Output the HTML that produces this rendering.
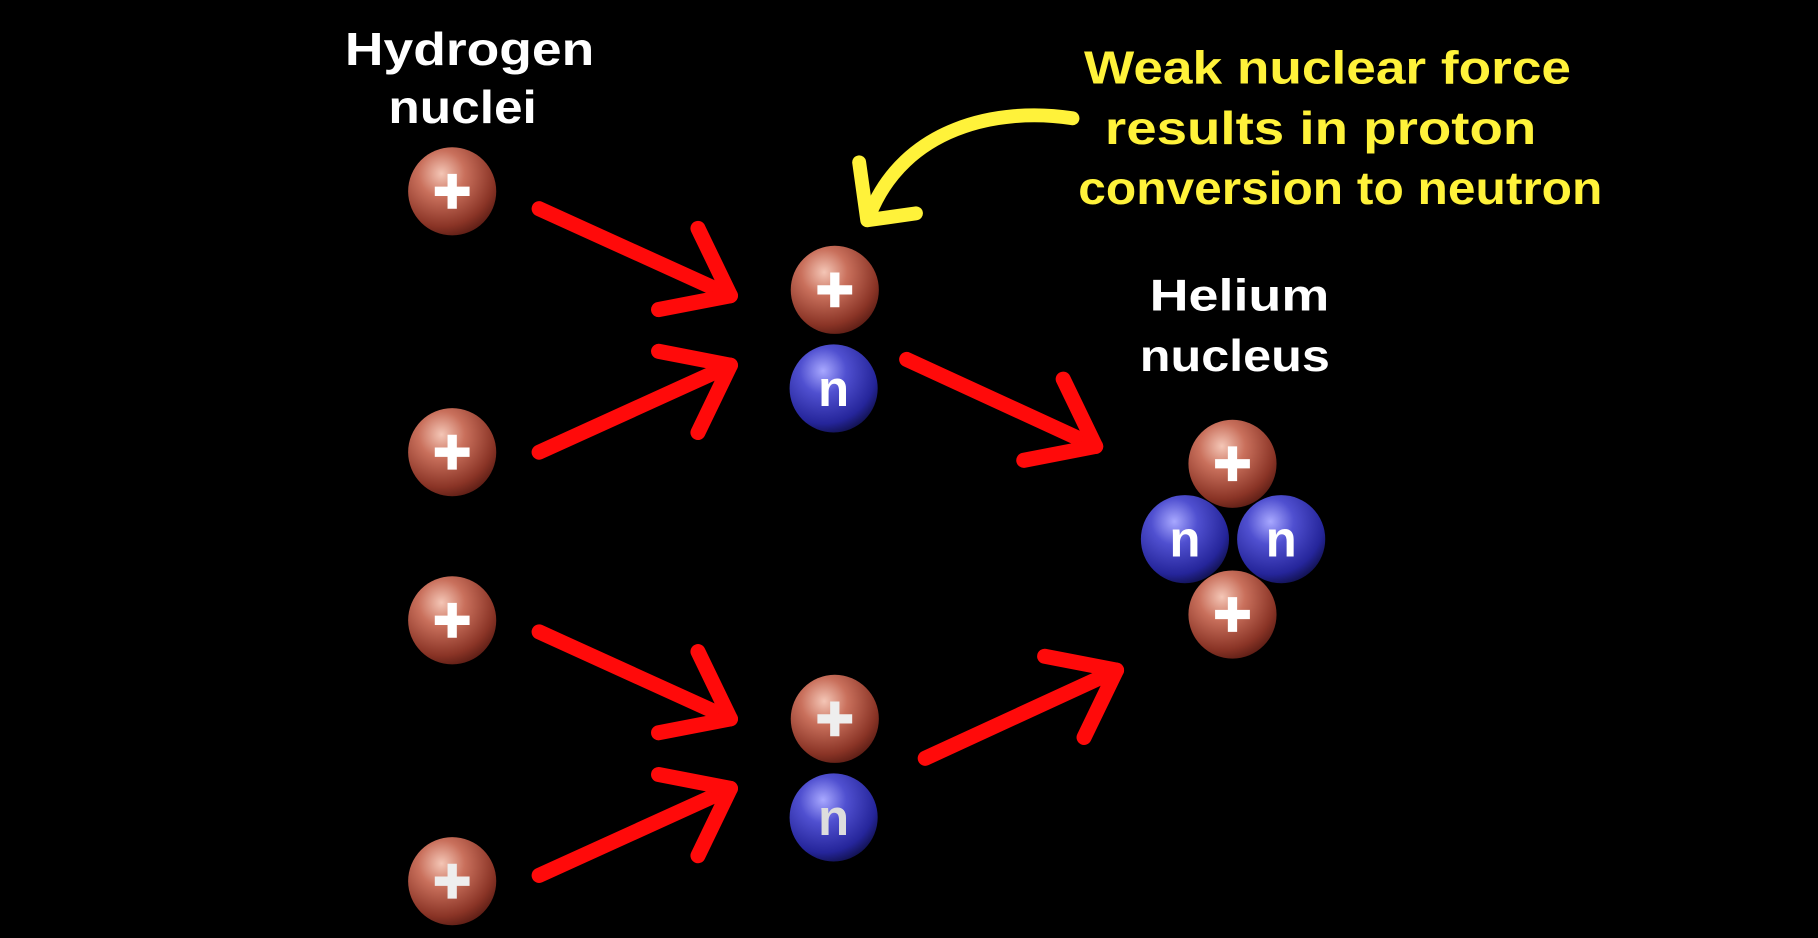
<!DOCTYPE html>
<html><head><meta charset="utf-8"><style>
html,body{margin:0;padding:0;background:#000;overflow:hidden}
svg{display:block}
text{font-family:"Liberation Sans",sans-serif;font-weight:bold}
</style></head><body>
<svg width="1818" height="938" viewBox="0 0 1568 809">
<defs>
<radialGradient id="pg" cx="0.38" cy="0.3" r="0.75">
<stop offset="0" stop-color="#f4c6b6"/><stop offset="0.35" stop-color="#c9705c"/><stop offset="0.8" stop-color="#8a3426"/><stop offset="1" stop-color="#5a1c14"/>
</radialGradient>
<radialGradient id="ng" cx="0.38" cy="0.3" r="0.75">
<stop offset="0" stop-color="#a8a8ff"/><stop offset="0.35" stop-color="#5050d0"/><stop offset="0.8" stop-color="#25259a"/><stop offset="1" stop-color="#10104a"/>
</radialGradient>
</defs>
<rect width="1568" height="809" fill="#000"/>

<g fill="#fff" font-size="40" text-anchor="middle">
<text x="405" y="56" textLength="215" lengthAdjust="spacingAndGlyphs">Hydrogen</text>
<text x="399" y="106" textLength="128" lengthAdjust="spacingAndGlyphs">nuclei</text>
</g>
<g fill="#fff" font-size="38" text-anchor="middle">
<text x="1069" y="268" textLength="155" lengthAdjust="spacingAndGlyphs">Helium</text>
<text x="1065" y="320" textLength="164" lengthAdjust="spacingAndGlyphs">nucleus</text>
</g>
<g fill="#fff23a" font-size="40" text-anchor="middle">
<text x="1145" y="72" textLength="420" lengthAdjust="spacingAndGlyphs">Weak nuclear force</text>
<text x="1139" y="124" textLength="372" lengthAdjust="spacingAndGlyphs">results in proton</text>
<text x="1156" y="176" textLength="452" lengthAdjust="spacingAndGlyphs">conversion to neutron</text>
</g>

<g fill="none" stroke="#fff23a" stroke-width="12" stroke-linecap="round" stroke-linejoin="round">
<path d="M925,102 C860,92 780,110 750,185"/>
<path d="M741,140 L748,190 L790,184"/>
</g>

<g fill="none" stroke="#ff0a0a" stroke-width="13" stroke-linecap="round" stroke-linejoin="round">
<g><path d="M465,180 L630,255"/><path d="M602,197 L630,255 L568,267"/></g>
<g><path d="M465,390 L630,315"/><path d="M568,303 L630,315 L602,373"/></g>
<g><path d="M465,545 L630,620"/><path d="M602,562 L630,620 L568,632"/></g>
<g><path d="M465,755 L630,680"/><path d="M568,668 L630,680 L602,738"/></g>
<g><path d="M782,310 L945,385"/><path d="M917,327 L945,385 L883,397"/></g>
<g><path d="M798,654 L963,578"/><path d="M901,566 L963,578 L935,636"/></g>
</g>

<g font-size="44" text-anchor="middle" fill="#fff">
<g><circle cx="390" cy="165" r="38" fill="url(#pg)"/><path d="M375,165h30M390,150v30" stroke="#fff" stroke-width="8"/></g>
<g><circle cx="390" cy="390" r="38" fill="url(#pg)"/><path d="M375,390h30M390,375v30" stroke="#fff" stroke-width="8"/></g>
<g><circle cx="390" cy="535" r="38" fill="url(#pg)"/><path d="M375,535h30M390,520v30" stroke="#fff" stroke-width="8"/></g>
<g><circle cx="390" cy="760" r="38" fill="url(#pg)"/><path d="M375,760h30M390,745v30" stroke="#eee" stroke-width="8"/></g>

<g>
<circle cx="720" cy="250" r="38" fill="url(#pg)"/><path d="M705,250h30M720,235v30" stroke="#fff" stroke-width="8"/>
<circle cx="719" cy="335" r="38" fill="url(#ng)"/><text x="719" y="350">n</text>
</g>
<g>
<circle cx="720" cy="620" r="38" fill="url(#pg)"/><path d="M705,620h30M720,605v30" stroke="#eee" stroke-width="8"/>
<circle cx="719" cy="705" r="38" fill="url(#ng)"/><text x="719" y="720" fill="#ddd">n</text>
</g>

<g>
<circle cx="1063" cy="400" r="38" fill="url(#pg)"/><path d="M1048,400h30M1063,385v30" stroke="#fff" stroke-width="8"/>
<circle cx="1063" cy="530" r="38" fill="url(#pg)"/><path d="M1048,530h30M1063,515v30" stroke="#fff" stroke-width="8"/>
<circle cx="1022" cy="465" r="38" fill="url(#ng)"/><text x="1022" y="480">n</text>
<circle cx="1105" cy="465" r="38" fill="url(#ng)"/><text x="1105" y="480">n</text>
</g>
</g>
</svg>
</body></html>
